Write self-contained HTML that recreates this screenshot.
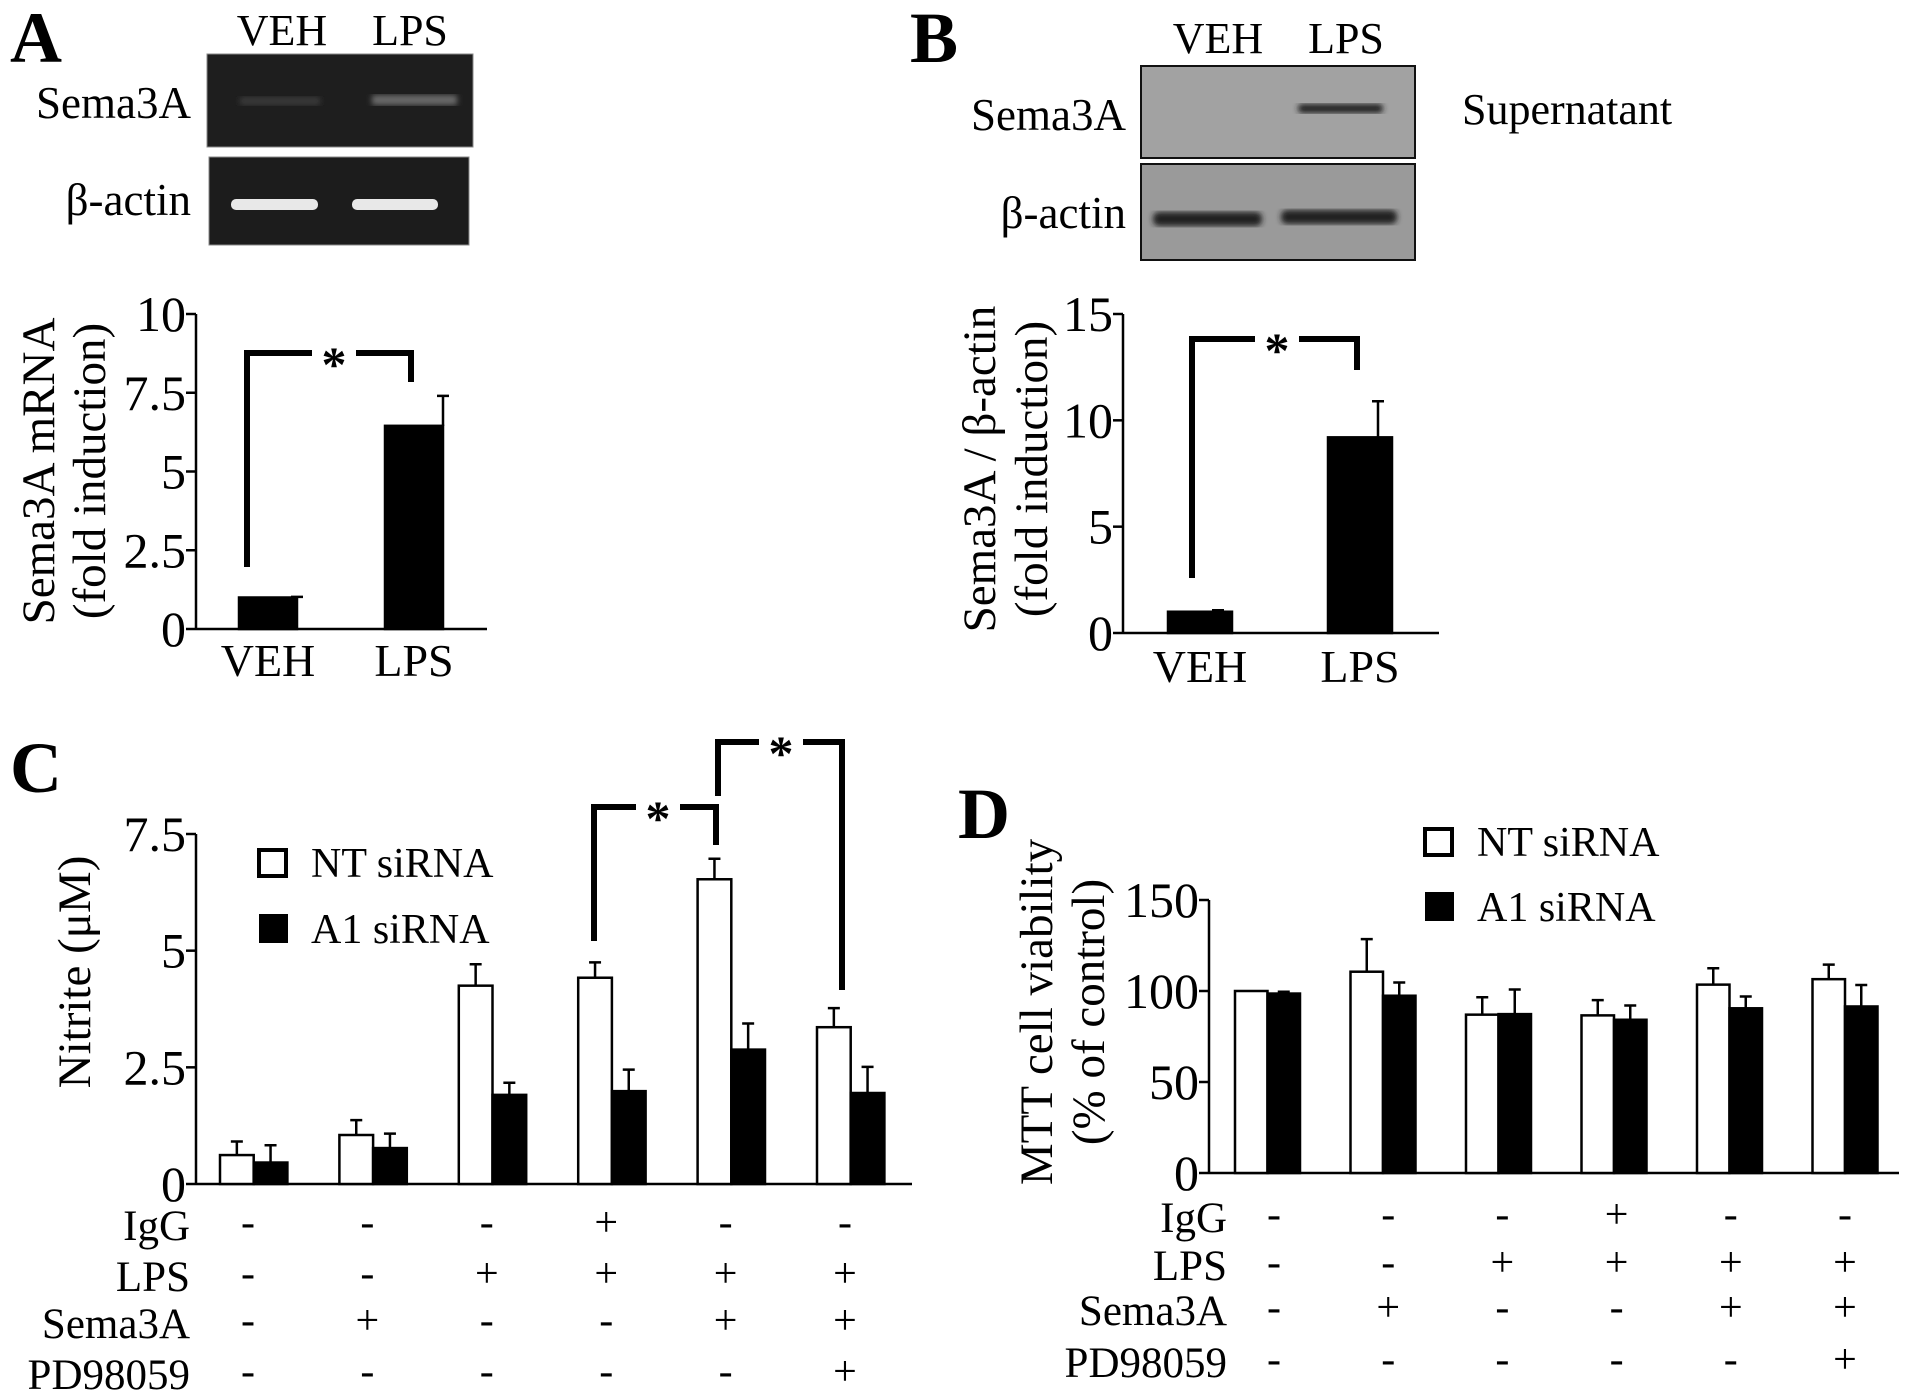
<!DOCTYPE html>
<html><head><meta charset="utf-8"><style>
body{margin:0;background:#fff}
svg{display:block;font-family:"Liberation Serif",serif}
</style></head><body>
<svg id="fig" width="1913" height="1400" viewBox="0 0 1913 1400" xmlns="http://www.w3.org/2000/svg">
<defs>
<filter id="blur"><feGaussianBlur stdDeviation="3"/></filter>
</defs>
<text x="10" y="62" font-size="72" font-weight="bold">A</text>
<text x="910" y="62" font-size="72" font-weight="bold">B</text>
<text x="10" y="792" font-size="72" font-weight="bold">C</text>
<text x="958" y="838" font-size="72" font-weight="bold">D</text>

<g>
<text x="282" y="45" font-size="44" text-anchor="middle">VEH</text>
<text x="410" y="45" font-size="44" text-anchor="middle">LPS</text>
<rect x="207" y="54" width="266" height="93" fill="#1e1e1e" stroke="#888" stroke-width="1"/>
<rect x="209" y="157" width="260" height="88" fill="#1c1c1c" stroke="#888" stroke-width="1"/>
<rect x="240" y="97" width="80" height="8" fill="#3a3a3a" filter="url(#blur)"/>
<rect x="372" y="95" width="85" height="10" fill="#6a6a6a" filter="url(#blur)"/>
<rect x="231" y="199" width="87" height="11" rx="5" fill="#e8e8e8"/>
<rect x="352" y="199" width="86" height="11" rx="5" fill="#e8e8e8"/>
<text x="191" y="118" font-size="45" text-anchor="end">Sema3A</text>
<text x="191" y="215" font-size="45" text-anchor="end">β-actin</text>
</g>

<g>
<text x="1218" y="53" font-size="44" text-anchor="middle">VEH</text>
<text x="1346" y="53" font-size="44" text-anchor="middle">LPS</text>
<rect x="1141" y="66" width="274" height="92" fill="#a2a2a2" stroke="#111" stroke-width="2"/>
<rect x="1141" y="164" width="274" height="96" fill="#9a9a9a" stroke="#111" stroke-width="2"/>
<rect x="1298" y="104" width="85" height="9" rx="4" fill="#222" filter="url(#blur)"/>
<rect x="1153" y="212" width="109" height="14" rx="6" fill="#222" filter="url(#blur)"/>
<rect x="1281" y="210" width="116" height="14" rx="6" fill="#222" filter="url(#blur)"/>
<text x="1126" y="130" font-size="45" text-anchor="end">Sema3A</text>
<text x="1126" y="228" font-size="45" text-anchor="end">β-actin</text>
<text x="1462" y="124" font-size="44">Supernatant</text>
</g>
<g id="charts"></g>
</svg>
<script>
// Panel A data
const aCats = ["VEH","LPS"];
const aVals = [1.0, 6.45];
const aErrTop = [1.02, 7.4];
const aTicks = [0, 2.5, 5, 7.5, 10];
const aTickLabels = ["0","2.5","5","7.5","10"];
// Panel B data
const bCats = ["VEH","LPS"];
const bVals = [1.0, 9.2];
const bErrTop = [1.07, 10.9];
const bTicks = [0, 5, 10, 15];
const bTickLabels = ["0","5","10","15"];
// Panel C data
const cNT = [0.62, 1.05, 4.25, 4.42, 6.53, 3.36];
const cNTErr = [0.91, 1.37, 4.71, 4.75, 6.97, 3.77];
const cA1 = [0.46, 0.77, 1.91, 1.99, 2.88, 1.95];
const cA1Err = [0.83, 1.08, 2.17, 2.45, 3.44, 2.51];
const cTicks = [0, 2.5, 5, 7.5];
const cTickLabels = ["0","2.5","5","7.5"];
// Panel D data
const dNT = [100, 110.6, 87, 86.6, 103.5, 106.5];
const dNTErr = [100, 128.5, 96.6, 95, 112.5, 114.5];
const dA1 = [98.6, 97.4, 87.3, 84.2, 90.5, 91.5];
const dA1Err = [99.6, 104.7, 100.8, 92, 97, 103.3];
const dTicks = [0, 50, 100, 150];
const dTickLabels = ["0","50","100","150"];
// Treatment table
const rowNames = ["IgG","LPS","Sema3A","PD98059"];
const treat = [
  ["-","-","-","+","-","-"],
  ["-","-","+","+","+","+"],
  ["-","+","-","-","+","+"],
  ["-","-","-","-","-","+"]
];

const NS="http://www.w3.org/2000/svg";
const root=document.getElementById('charts');
function el(tag,attrs,parent,txt){const e=document.createElementNS(NS,tag);for(const k in attrs)e.setAttribute(k,attrs[k]);if(txt!==undefined)e.textContent=txt;(parent||root).appendChild(e);return e;}
function scale(d0,d1,r0,r1){return v=>r0+(v-d0)*(r1-r0)/(d1-d0);}

function axes(g,x0,x1,y,ticks,labels,ymax){
  el('line',{x1:x0,y1:y(0),x2:x1,y2:y(0),stroke:'#000','stroke-width':2.5},g);
  el('line',{x1:x0,y1:y(0),x2:x0,y2:y(ymax),stroke:'#000','stroke-width':2.5},g);
  ticks.forEach((t,i)=>{
    el('line',{x1:x0-10,y1:y(t),x2:x0,y2:y(t),stroke:'#000','stroke-width':2.5},g);
    const tx=el('text',{x:x0-10,y:y(t)+17,'font-size':50,'text-anchor':'end'},g,labels[i]);
    
    
  });
}
function bar(g,x,w,v,y,fill,name){
  const r=el('rect',{x:x,y:y(v),width:w,height:y(0)-y(v),fill:fill,stroke:'#000','stroke-width':2.5},g);
  
  
}
function err(g,cx,v,top,y){
  if(top-v<0.001)return;
  const e=el('path',{d:`M${cx},${y(v)}V${y(top)}M${cx-6},${y(top)}H${cx+6}`,stroke:'#000','stroke-width':2.5,fill:'none'},g);
  
  
}
function bracket(g,xl,yl,xr,yr,ytop,xs){
  const p=el('path',{d:`M${xl},${yl}V${ytop}H${xs-22}M${xs+22},${ytop}H${xr}V${yr}`,stroke:'#000','stroke-width':6,fill:'none'},g);
  
  
  const s=el('text',{x:xs,y:ytop+28,'font-size':50,'font-weight':'bold','text-anchor':'middle'},g,'*');
  
  
}
function ytitle(g,cx,cy,lines,gap){
  lines.forEach((l,i)=>{
    const t=el('text',{x:0,y:0,'font-size':47,'text-anchor':'middle',transform:`translate(${cx+i*gap},${cy}) rotate(-90)`},g,l);
    
    
  });
}
function xlabel(g,x,y,c){
  const t=el('text',{x:x,y:y,'font-size':46,'text-anchor':'middle'},g,c);
  
  
}

// Panel A
(function(){
  const g=el('g',{});
  
  
  const y=scale(0,10,629,314);
  axes(g,196,487,y,aTicks,aTickLabels,10);
  const xs=[239,385];
  aCats.forEach((c,i)=>{
    bar(g,xs[i],58,aVals[i],y,'#000','bar-'+c.toLowerCase());
    err(g,xs[i]+58,aVals[i],aErrTop[i],y);
    xlabel(g,xs[i]+29,676,c);
  });
  bracket(g,247,567,411,382,353,334);
  ytitle(g,54,471,['Sema3A mRNA','(fold induction)'],51);
})();
// Panel B
(function(){
  const g=el('g',{});
  
  
  const y=scale(0,15,633,314);
  axes(g,1123,1439,y,bTicks,bTickLabels,15);
  const xs=[1168,1328];
  bCats.forEach((c,i)=>{
    bar(g,xs[i],64,bVals[i],y,'#000','bar-'+c.toLowerCase());
    err(g,xs[i]+50,bVals[i],bErrTop[i],y);
    xlabel(g,xs[i]+32,682,c);
  });
  bracket(g,1192,578,1357,370,339,1277);
  ytitle(g,995,469,['Sema3A / β-actin','(fold induction)'],52);
})();
function grouped(name,ax,axEnd,y0,y1,ymax,ticks,labels,gx0,gstep,bw,nt,ntE,a1,a1E,signX0,signStep,rowY,labelRight,leg){
  const g=el('g',{});
  
  
  const y=scale(0,ymax,y0,y1);
  axes(g,ax,axEnd,y,ticks,labels,ymax);
  nt.forEach((v,i)=>{
    const x=gx0+i*gstep;
    bar(g,x,bw,v,y,'#fff','bar-nt-'+(i+1));
    err(g,x+bw/2,v,ntE[i],y);
    bar(g,x+bw,bw,a1[i],y,'#000','bar-a1-'+(i+1));
    err(g,x+bw*1.5,a1[i],a1E[i],y);
  });
  rowNames.forEach((r,ri)=>{
    const t=el('text',{x:labelRight,y:rowY[ri],'font-size':43,'text-anchor':'end'},g,r);
    
    
    treat[ri].forEach((s,ci)=>{
      const st=el('text',{x:signX0+ci*signStep,y:rowY[ri]-4,'font-size':42,'text-anchor':'middle'},g,s);
      
      
    });
  });
  const l1=el('rect',{x:leg[0],y:leg[1],width:27,height:26,fill:'#fff',stroke:'#000','stroke-width':4},g);
  
  
  const t1=el('text',{x:leg[0]+52,y:leg[1]+27,'font-size':42},g,'NT siRNA');
  
  
  const l2=el('rect',{x:leg[0],y:leg[2],width:29,height:29,fill:'#000'},g);
  
  
  const t2=el('text',{x:leg[0]+52,y:leg[2]+29,'font-size':42},g,'A1 siRNA');
  
  
  return g;
}
const gc=grouped('chart-c',196,912,1184,834,7.5,cTicks,cTickLabels,220,119.4,33.7,cNT,cNTErr,cA1,cA1Err,248,119.4,[1240,1291,1338,1389],190,[259,850,914]);
bracket(gc,594,941,716,845,807,658);
bracket(gc,718,796,842,990,742,781);
ytitle(gc,90,972,['Nitrite (μM)'],0);
const gd=grouped('chart-d',1209,1899,1173,900,150,dTicks,dTickLabels,1235,115.5,32.5,dNT,dNTErr,dA1,dA1Err,1274,114.2,[1232,1280,1325,1377],1227,[1425,829,892]);
ytitle(gd,1052,1012,['MTT cell viability','(% of control)'],52);
</script>
</body></html>
